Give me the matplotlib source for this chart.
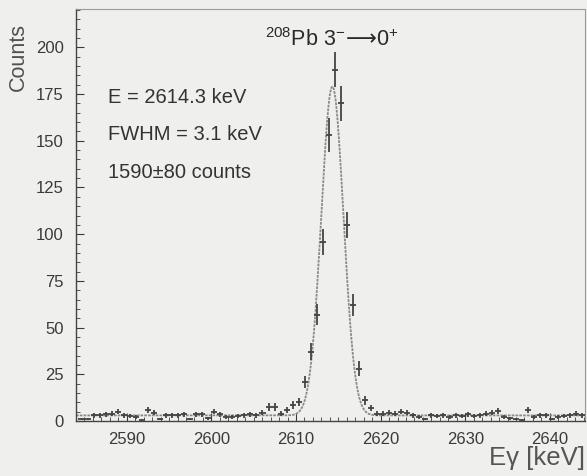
import matplotlib.pyplot as plt
import numpy as np
from matplotlib.ticker import MultipleLocator

# ---------------------------------------------------
# spectrum (bins of ~0.713 keV starting at 2584.65 keV)
bin_start = 2584.65
bin_width = 0.713

counts = [1, 1, 3, 3, 3.5, 4, 5, 3, 2.5, 2,
          0.5, 6, 4.5, 1, 3, 3, 3, 3.5, 1, 3.5,
          3.5, 1.5, 5, 3.5, 2, 2, 2.5, 3, 3.5, 3,
          4.5, 7.5, 7.5, 4, 6, 8.5, 10, 21, 37, 57,
          96, 153, 188, 170, 105, 62, 28, 11, 7, 4,
          4, 4.5, 4, 5, 4.5, 3, 2, 1, 3, 2.5,
          3, 2, 3, 2.5, 3.5, 2.5, 3, 4, 4.5, 5.5,
          2, 1.5, 1, 0.5, 6, 2, 3, 3, 1, 2,
          2.5, 3, 4, 3]
errors = [0.7, 0.7, 1.2, 1.2, 1.3, 1.4, 1.5, 1.2, 1.1, 1.0,
          0.5, 1.7, 1.4, 0.7, 1.2, 1.2, 1.2, 1.3, 0.7, 1.3,
          1.3, 0.8, 1.5, 1.3, 1.0, 1.0, 1.1, 1.2, 1.3, 1.2,
          1.4, 1.9, 1.9, 1.4, 1.7, 2.0, 2.2, 3.2, 4.5, 5.5,
          7.0, 9.0, 9.3, 9.4, 7.0, 5.8, 4.0, 2.3, 1.8, 1.4,
          1.4, 1.4, 1.4, 1.5, 1.4, 1.2, 1.0, 0.7, 1.2, 1.1,
          1.2, 1.0, 1.2, 1.1, 1.3, 1.1, 1.2, 1.4, 1.4, 1.6,
          1.0, 0.8, 0.7, 0.5, 1.7, 1.0, 1.2, 1.2, 0.7, 1.0,
          1.1, 1.2, 1.4, 1.2]

# fit result printed on the chart
fit_centroid = 2614.3
fit_fwhm = 3.1
fit_height = 176.0
fit_background = 3.0

peak_title = r'$^{208}$Pb 3$^{-}\!\mathsf{\longrightarrow}\!$0$^{+}$'
fit_lines = ['E = 2614.3 keV', 'FWHM = 3.1 keV', '1590\u00b180 counts']

# ---------------------------------------------------

plt.rcParams['font.family'] = ['Liberation Sans', 'DejaVu Sans']
plt.rcParams['mathtext.fontset'] = 'custom'
plt.rcParams['mathtext.rm'] = 'Liberation Sans'
plt.rcParams['mathtext.it'] = 'Liberation Sans:italic'
plt.rcParams['mathtext.sf'] = 'DejaVu Sans'

paper = '#efefed'
ink = '#3a3a3a'

fig = plt.figure(figsize=(5.87, 4.76), dpi=100, facecolor=paper)
ax = fig.add_axes([0.1295, 0.1155, 0.867, 0.8655], facecolor=paper)

energy = bin_start + bin_width * np.arange(len(counts))

# gaussian fit line
sigma = fit_fwhm / (2 * np.sqrt(2 * np.log(2)))
e_fine = np.linspace(2584.0, 2644.2, 1200)
fit = fit_background + fit_height * np.exp(-0.5 * ((e_fine - fit_centroid) / sigma) ** 2)
ax.plot(e_fine, fit, color='#8a8a8a', lw=1.3, ls=(0, (1.5, 0.6)), zorder=2)

ax.errorbar(energy, counts, yerr=errors, xerr=bin_width / 2, fmt='none',
            ecolor='#444444', elinewidth=1.3, capsize=0, zorder=3)

ax.set_xlim(2584.0, 2644.15)
ax.set_ylim(0, 220.5)

ax.xaxis.set_major_locator(MultipleLocator(10))
ax.xaxis.set_minor_locator(MultipleLocator(1))
ax.yaxis.set_major_locator(MultipleLocator(25))
ax.yaxis.set_minor_locator(MultipleLocator(5))
ax.tick_params(which='both', direction='in', colors=ink, labelsize=12,
               top=False, right=False)
ax.tick_params(which='major', length=6, width=0.8)
ax.tick_params(which='minor', length=3, width=0.6)
ax.tick_params(axis='y', pad=9)
ax.tick_params(axis='x', pad=8)

for side in ['left', 'bottom']:
    ax.spines[side].set_color('#444444')
    ax.spines[side].set_linewidth(1.0)
for side in ['top', 'right']:
    ax.spines[side].set_color('#9a9a9a')
    ax.spines[side].set_linewidth(0.8)
    ax.spines[side].set_linestyle((0, (1, 1)))

fig.text(0.031, 0.88, 'Counts', rotation=90, ha='center', va='center',
         fontsize=15.5, color='#505050')
fig.text(0.997, 0.038, 'E\u03b3 [keV]', ha='right', va='center',
         fontsize=18.5, color='#555555')

ax.text(2614.3, 204, peak_title, ha='center', va='center', fontsize=15.5, color='#2a2a2a')

for k, line in enumerate(fit_lines):
    ax.text(0.062, 0.786 - k * 0.091, line, transform=ax.transAxes,
            fontsize=14.5, color='#333333', va='center')

plt.savefig('out.png', dpi=100, facecolor=paper)
